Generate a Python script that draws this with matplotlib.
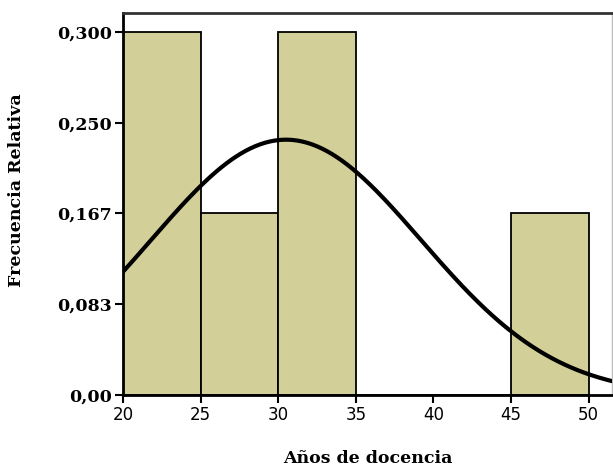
import numpy as np
import matplotlib.pyplot as plt

# Histogram bins (years of teaching) and bar heights as drawn
bin_edges = [20, 25, 30, 35, 40, 45, 50]
bar_heights = [0.300, 0.150, 0.300, 0.0, 0.0, 0.150]

# Y tick positions and their printed labels
ytick_pos = [0.0, 0.075, 0.150, 0.225, 0.300]
ytick_labels = ['0,00', '0,083', '0,167', '0,250', '0,300']
xtick_pos = [20, 25, 30, 35, 40, 45, 50]

# Fitted normal curve parameters
curve_mean = 30.5
curve_sd = 8.7
curve_peak = 0.211

fig = plt.figure(figsize=(6.13, 4.71), dpi=100)
ax = fig.add_axes([0.2007, 0.1614, 0.7977, 0.811])

widths = np.diff(bin_edges)
ax.bar(bin_edges[:-1], bar_heights, width=widths, align='edge',
       color='#d3cf98', edgecolor='black', linewidth=1.3, zorder=2)

xs = np.linspace(20, 51.5, 300)
ys = curve_peak * np.exp(-(xs - curve_mean) ** 2 / (2 * curve_sd ** 2))
ax.plot(xs, ys, color='black', linewidth=3, zorder=3)

ax.set_xlim(20, 51.5)
ax.set_ylim(0, 0.3157)

ax.set_yticks(ytick_pos)
ax.set_yticklabels(ytick_labels, family='DejaVu Serif', fontsize=12.5,
                   fontweight='bold')
ax.set_xticks(xtick_pos)
ax.set_xticklabels([str(t) for t in xtick_pos], family='DejaVu Sans', fontsize=12)
ax.tick_params(axis='both', length=6, width=1.5, direction='out', pad=2)

ax.set_xlabel('Años de docencia', family='DejaVu Serif', fontsize=12.5,
              fontweight='bold', labelpad=19)
ax.set_ylabel('Frecuencia Relativa', family='DejaVu Serif', fontsize=12.5,
              fontweight='bold')
ax.yaxis.set_label_coords(-0.200, 0.535)

ax.spines['left'].set_linewidth(2)
ax.spines['bottom'].set_linewidth(2)
ax.spines['top'].set_linewidth(2)
ax.spines['top'].set_color('#333333')
ax.spines['right'].set_linewidth(1)
ax.spines['right'].set_color('#bbbbbb')

fig.savefig('out.png', dpi=100)
